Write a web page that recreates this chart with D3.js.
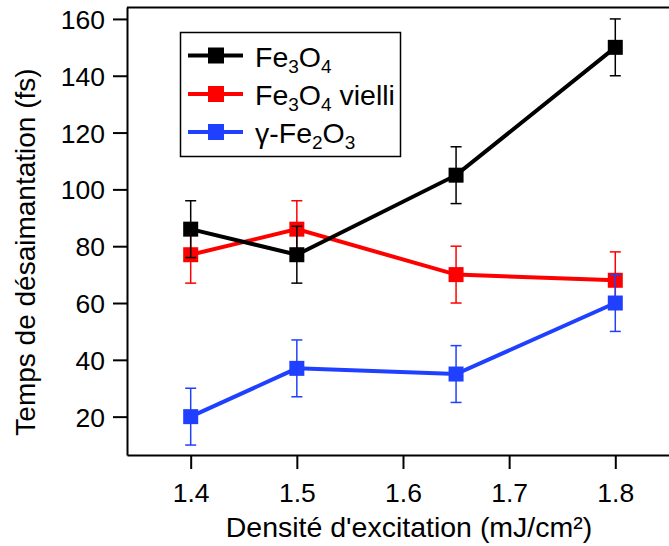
<!DOCTYPE html>
<html><head><meta charset="utf-8">
<script src="https://cdn.jsdelivr.net/npm/d3@7"></script>
<style>body{margin:0;background:#fff}svg{display:block;font-family:"Liberation Sans",Arial,sans-serif}</style>
</head><body><svg id="c" width="669" height="546"></svg>
<script>
const xValues = [1.4, 1.5, 1.65, 1.8];
const fe3o4 = [86, 77, 105, 150];
const fe3o4Vielli = [77, 86, 70, 68];
const gammaFe2o3 = [20, 37, 35, 60];
const errors = [10, 10, 10, 10];
const xTicks = [1.4, 1.5, 1.6, 1.7, 1.8];
const yTicks = [20, 40, 60, 80, 100, 120, 140, 160];
const seriesNames = [["Fe",["3"],"O",["4"]], ["Fe",["3"],"O",["4"]," vielli"], ["γ-Fe",["2"],"O",["3"]]];
const colors = ["#000000", "#ff0000", "#2040ff"];

const svg = d3.select("#c");
const L = 127, R = 669, T = 7, B = 455;
const x = d3.scaleLinear().domain([1.34, 1.8506]).range([L, R]);
const y = d3.scaleLinear().domain([6.5, 164.2]).range([B, T]);

svg.append("line").attr("x1", L).attr("x2", R).attr("y1", T + 0.5).attr("y2", T + 0.5).attr("stroke", "#000").attr("stroke-width", 2);

const xAxis = svg.append("g").attr("transform", `translate(0,${B})`)
  .call(d3.axisBottom(x).tickValues(xTicks).tickFormat(d3.format(".1f")).tickSize(14).tickPadding(8).tickSizeOuter(0));
const yAxis = svg.append("g").attr("transform", `translate(${L},0)`)
  .call(d3.axisLeft(y).tickValues(yTicks).tickFormat(d3.format("d")).tickSize(14).tickPadding(8).tickSizeOuter(0));
[xAxis, yAxis].forEach(a => {
  a.selectAll("path").attr("stroke", "#000").attr("stroke-width", 2);
  a.selectAll("line").attr("stroke", "#000").attr("stroke-width", 2);
  a.selectAll("text").attr("fill", "#000").style("font-size", "26.5px").style("font-family", "'Liberation Sans', Arial, sans-serif");
});
xAxis.selectAll("text").attr("dy", "0.95em");
yAxis.selectAll("text").attr("dy", "0.36em");

svg.append("text").attr("x", 409).attr("y", 537).attr("text-anchor", "middle")
  .style("font-size", "28.5px").text("Densité d'excitation (mJ/cm²)");
svg.append("text").attr("transform", "translate(35,252) rotate(-90)").attr("text-anchor", "middle")
  .style("font-size", "28px").text("Temps de désaimantation (fs)");

const order = [1, 0, 2];
const line = d3.line().x(d => x(d[0])).y(d => y(d[1]));
order.forEach(si => {
  const vals = [fe3o4, fe3o4Vielli, gammaFe2o3][si];
  const c = colors[si];
  const pts = xValues.map((xv, i) => [xv, vals[i], errors[i]]);
  const g = svg.append("g");
  g.append("path").datum(pts).attr("d", line).attr("fill", "none").attr("stroke", c).attr("stroke-width", 4);
  pts.forEach(p => {
    const cx = x(p[0]), y1 = y(p[1] + p[2]), y2 = y(p[1] - p[2]);
    g.append("rect").attr("x", cx - 7.5).attr("y", y(p[1]) - 7.5).attr("width", 15).attr("height", 15).attr("fill", c);
    g.append("line").attr("x1", cx).attr("x2", cx).attr("y1", y1).attr("y2", y2).attr("stroke", c).attr("stroke-width", 1.5);
    [y1, y2].forEach(yy => g.append("line").attr("x1", cx - 5.5).attr("x2", cx + 5.5).attr("y1", yy).attr("y2", yy).attr("stroke", c).attr("stroke-width", 1.5));
  });
});

const lg = svg.append("g");
lg.append("rect").attr("x", 180.5).attr("y", 32.5).attr("width", 220).attr("height", 124).attr("fill", "#fff").attr("stroke", "#000").attr("stroke-width", 1.5);
const rowsY = [55.5, 94, 132];
seriesNames.forEach((parts, i) => {
  const yy = rowsY[i];
  lg.append("line").attr("x1", 188).attr("x2", 243).attr("y1", yy).attr("y2", yy).attr("stroke", colors[i]).attr("stroke-width", 4);
  lg.append("rect").attr("x", 216 - 8).attr("y", yy - 8).attr("width", 16).attr("height", 16).attr("fill", colors[i]);
  const t = lg.append("text").attr("x", 255).attr("y", yy + 11).style("font-size", "28.5px");
  parts.forEach(p => {
    if (Array.isArray(p)) {
      t.append("tspan").attr("dy", 6).style("font-size", "19px").text(p[0]);
    } else {
      const sp = t.append("tspan").text(p);
      if (t.selectAll("tspan").size() > 1) sp.attr("dy", -6);
    }
  });
});
</script></body></html>
